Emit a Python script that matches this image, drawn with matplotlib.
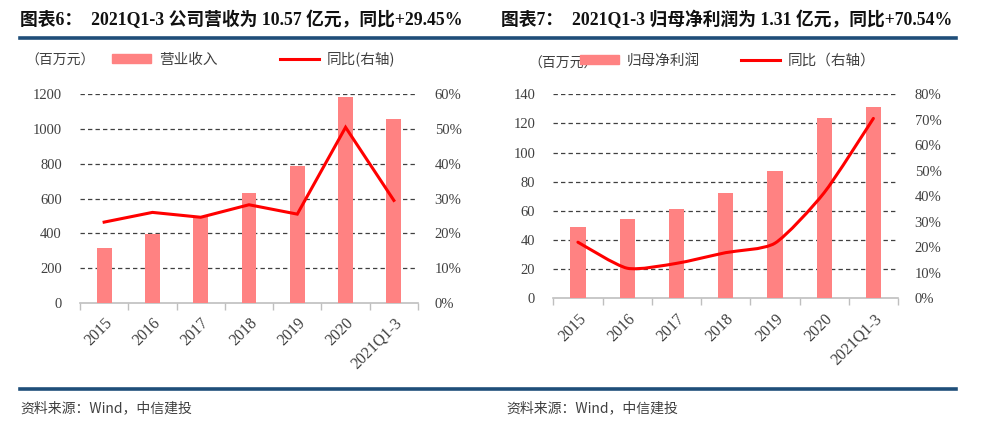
import numpy as np
import matplotlib
matplotlib.use("Agg")
import matplotlib.pyplot as plt
from matplotlib.path import Path
from matplotlib.patches import PathPatch, Patch
from matplotlib.lines import Line2D
from matplotlib.ticker import FixedLocator, PercentFormatter

plt.rcParams['font.family'] = ['Liberation Serif', 'Noto Sans CJK SC']

categories = ['2015', '2016', '2017', '2018', '2019', '2020', '2021Q1-3']

# figure 6: revenue (million yuan) and yoy (%)
revenue = [314, 396, 496, 631, 789, 1185, 1057]
revenue_yoy = [23.2, 26.0, 24.6, 28.2, 25.5, 50.5, 29.45]

# figure 7: net profit attributable (million yuan) and yoy (%)
profit = [48.7, 54.4, 61.3, 72.1, 87.6, 123.5, 131.5]
profit_yoy = [22.0, 11.8, 13.7, 17.9, 21.6, 41.4, 70.54]

BAR_COLOR = '#FF8282'
LINE_COLOR = '#FF0000'
BLUE = '#1F4E79'
TXT = '#404040'
CJK = ['Noto Sans CJK SC', 'DejaVu Sans']

W, H = 988, 424
fig = plt.figure(figsize=(W / 100, H / 100), dpi=100)


def px_axes(x0, x1, y_top, y_bot):
    return fig.add_axes([x0 / W, 1 - y_bot / H, (x1 - x0) / W, (y_bot - y_top) / H])


def smooth_path(xs, ys, k=9.0):
    # catmull-rom style curve through the points, as bezier segments
    pts = np.column_stack([xs, ys]).astype(float)
    n = len(pts)
    verts = [pts[0]]
    codes = [Path.MOVETO]
    for i in range(n - 1):
        p0 = pts[i - 1] if i > 0 else pts[i]
        p1 = pts[i]
        p2 = pts[i + 1]
        p3 = pts[i + 2] if i + 2 < n else pts[i + 1]
        c1 = p1 + (p2 - p0) / k
        c2 = p2 - (p3 - p1) / k
        verts += [c1, c2, p2]
        codes += [Path.CURVE4] * 3
    return Path(verts, codes)


def panel(ax, bars, yoy, ymax, ystep, pmax, smooth):
    x = np.arange(len(categories))
    ax.bar(x, bars, width=0.31, color=BAR_COLOR, zorder=3)
    ax.set_xlim(-0.5, len(categories) - 0.5)
    ax.set_ylim(0, ymax)
    ax.set_yticks(np.arange(0, ymax + 1e-9, ystep))
    ax.set_xticks(x)
    ax.set_xticklabels(categories, rotation=45, ha='right', rotation_mode='anchor',
                       fontsize=11.5, color=TXT)
    ax.xaxis.set_minor_locator(FixedLocator(np.arange(-0.5, len(categories), 1.0)))
    ax.tick_params(axis='x', which='major', length=0, pad=9)
    ax.tick_params(axis='x', which='minor', length=5, color='#BFBFBF', width=1)
    ax.tick_params(axis='y', length=0, pad=13, labelsize=10.5, labelcolor=TXT)
    for s in ['top', 'left', 'right']:
        ax.spines[s].set_visible(False)
    ax.spines['bottom'].set_color('#BFBFBF')
    ax.spines['bottom'].set_linewidth(1.2)
    for t in ax.get_yticks()[1:]:
        ax.axhline(t, color='#404040', lw=0.9, ls=(0, (3.5, 2.5)), zorder=1)

    ax2 = ax.twinx()
    ax2.set_ylim(0, pmax)
    ax2.set_yticks(np.arange(0, pmax + 1e-9, 10))
    ax2.yaxis.set_major_formatter(PercentFormatter(decimals=0))
    ax2.tick_params(axis='y', length=0, pad=12, labelsize=10.5, labelcolor=TXT)
    for s in ['top', 'left', 'right', 'bottom']:
        ax2.spines[s].set_visible(False)
    if smooth:
        ax2.add_patch(PathPatch(smooth_path(x, yoy), fill=False, edgecolor=LINE_COLOR,
                                lw=2.2, zorder=4, capstyle='round', joinstyle='round'))
    else:
        ax2.plot(x, yoy, color=LINE_COLOR, lw=2.2, zorder=4, solid_joinstyle='miter')
    return ax2


axL = px_axes(80, 418, 94.3, 302.7)
panel(axL, revenue, revenue_yoy, 1200, 200, 60, False)

axR = px_axes(553.3, 898, 94.3, 298.3)
panel(axR, profit, profit_yoy, 140, 20, 80, True)

# titles
fig.text(20 / W, 1 - 20 / H, '图表6：  2021Q1-3 公司营收为 10.57 亿元，同比+29.45%',
         fontsize=12.8, fontweight='bold', va='center', ha='left', color='#111111')
fig.text(501 / W, 1 - 20 / H, '图表7：  2021Q1-3 归母净利润为 1.31 亿元，同比+70.54%',
         fontsize=12.8, fontweight='bold', va='center', ha='left', color='#111111')

# blue rules
fig.add_artist(Line2D([20 / W, 956 / W], [1 - 38 / H, 1 - 38 / H], color=BLUE, lw=2.6))
fig.add_artist(Line2D([20 / W, 956 / W], [1 - 389 / H, 1 - 389 / H], color=BLUE, lw=2.6))

# unit labels
fig.text(25 / W, 1 - 61 / H, '（百万元）', family=CJK, fontsize=10, color=TXT, va='center')
fig.text(528 / W, 1 - 64 / H, '（百万元）', family=CJK, fontsize=10, color=TXT, va='center')

# legends
legL = fig.legend(handles=[Patch(color=BAR_COLOR, label='营业收入'),
                           Line2D([], [], color=LINE_COLOR, lw=2.2, label='同比(右轴)')],
                  loc='center left', bbox_to_anchor=(112 / W, 1 - 59 / H), ncol=2,
                  frameon=False, prop={'family': CJK, 'size': 10.5},
                  handlelength=2.7, handleheight=0.55, handletextpad=0.5,
                  columnspacing=4.3, borderaxespad=0, borderpad=0)
for t in legL.get_texts():
    t.set_color(TXT)

legR = fig.legend(handles=[Patch(color=BAR_COLOR, label='归母净利润'),
                           Line2D([], [], color=LINE_COLOR, lw=2.2, label='同比（右轴）')],
                  loc='center left', bbox_to_anchor=(580 / W, 1 - 61 / H), ncol=2,
                  frameon=False, prop={'family': CJK, 'size': 10.5},
                  handlelength=2.7, handleheight=0.55, handletextpad=0.5,
                  columnspacing=2.8, borderaxespad=0, borderpad=0)
for t in legR.get_texts():
    t.set_color(TXT)

# sources
fig.text(20 / W, 1 - 408 / H, '资料来源：Wind，中信建投', family=CJK, fontsize=10,
         style='italic', color=TXT, va='center')
fig.text(506 / W, 1 - 408 / H, '资料来源：Wind，中信建投', family=CJK, fontsize=10,
         style='italic', color=TXT, va='center')

fig.savefig('out.png', dpi=100)
